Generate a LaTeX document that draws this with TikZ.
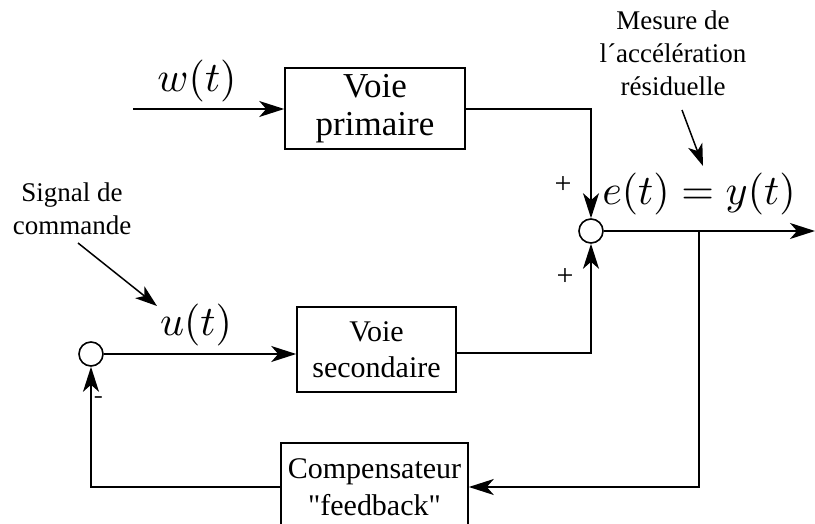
\documentclass[tikz,border=0pt]{standalone}
\usepackage{graphicx}
\usepackage{fontspec}
\setmainfont{Liberation Serif}[Ligatures=TeXOff]
\usetikzlibrary{arrows.meta}
\tikzset{
  wire/.style={line width=1.6pt},
  arr/.style={wire,-{Stealth[length=25pt,width=16pt,inset=7pt]}},
  thinarr/.style={line width=1.5pt,-{Stealth[length=22pt,width=15pt,inset=6pt]}},
  blk/.style={draw,line width=1.6pt,inner sep=0pt,align=center},
  sumnode/.style={draw,circle,line width=1.6pt,minimum size=24pt,inner sep=0pt},
  mathlbl/.style={inner sep=0pt},
  annot/.style={font=\fontsize{27}{33}\selectfont,align=center,inner sep=0pt},
  sign/.style={font=\fontsize{30}{30}\selectfont,inner sep=0pt}
}
\begin{document}
\begin{tikzpicture}[x=1pt,y=-1pt]
\useasboundingbox (0,0) rectangle (815,524);
\clip (0,0) rectangle (815,524);
% blocks
\node[blk,minimum width=180pt,minimum height=81pt,font=\fontsize{35}{38}\selectfont] (prim) at (375,108.5) {Voie\\primaire};
\node[blk,minimum width=159pt,minimum height=85pt,font=\fontsize{30}{36}\selectfont] (sec) at (376.5,349.5) {Voie\\secondaire};
\node[blk,minimum width=187pt,minimum height=88pt,font=\fontsize{30}{37}\selectfont] (comp) at (374.5,487) {Compensateur\\"feedback"};
% summing junctions
\node[sumnode] (s1) at (591,231) {};
\node[sumnode] (s2) at (91,354) {};
% helper coordinates
\coordinate (win) at (133,109);
\coordinate (pc) at (591,109);
\coordinate (sc) at (591,353);
\coordinate (out) at (815,231);
\coordinate (tap) at (699,231);
\coordinate (tapb) at (699,487);
\coordinate (fbl) at (91,487);
% connectors
\draw[arr] (win) -- (prim.west |- win);
\draw[arr] (prim.east |- pc) -- (pc) -- (s1.north);
\draw[arr] (sec.east |- sc) -- (sc) -- (s1.south);
\draw[arr] (s1.east) -- (out);
\draw[arr] (s2.east) -- (sec.west |- s2.east);
\draw[arr] (tap) -- (tapb) -- (comp.east |- tapb);
\draw[arr] (comp.west |- fbl) -- (fbl) -- (s2.south);
% labels
\node[mathlbl,anchor=base] (wl) at (197,92) {\scalebox{4.2}{$w(t)$}};
\node[mathlbl,anchor=base] (ul) at (196,335) {\scalebox{4.2}{$u(t)$}};
\node[mathlbl,anchor=base] (el) at (699,205) {\scalebox{4.2}{$e(t)=y(t)$}};
\node[sign] (p1) at (563,185) {+};
\node[sign] (p2) at (565,277) {+};
\node[sign,font=\sffamily\fontsize{28}{28}\selectfont] (m1) at (99,400) {-};
% annotations
\node[annot,anchor=base] (mes) at (673,96) {Mesure de\\l´accélération\\résiduelle};
\node[annot,anchor=base] (sig) at (72,235) {Signal de\\commande};
\coordinate (mesa) at (682,110);
\coordinate (mesb) at (703,166);
\coordinate (siga) at (78,243);
\coordinate (sigb) at (157,306);
\draw[thinarr] (mesa) -- (mesb);
\draw[thinarr] (siga) -- (sigb);
\end{tikzpicture}
\end{document}
